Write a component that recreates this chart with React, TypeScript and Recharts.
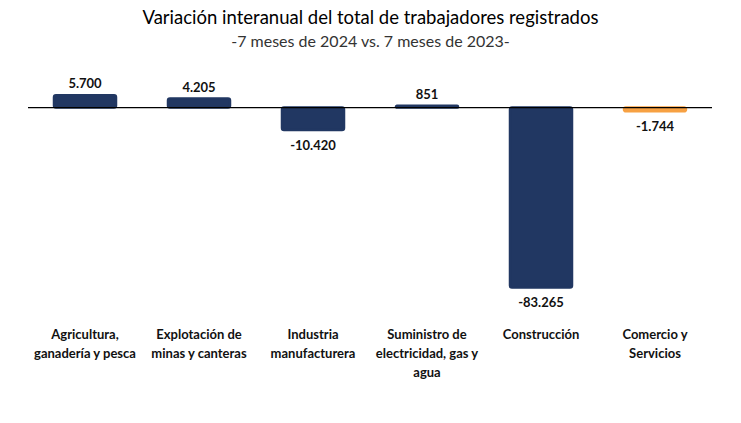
import { BarChart, Bar, XAxis, YAxis, Cell, LabelList, ReferenceLine } from 'recharts';

const categories = [
  'Agricultura, ganadería y pesca',
  'Explotación de minas y canteras',
  'Industria manufacturera',
  'Suministro de electricidad, gas y agua',
  'Construcción',
  'Comercio y Servicios',
];

// how each category label wraps under the axis
const tickLines = [
  ['Agricultura,', 'ganadería y pesca'],
  ['Explotación de', 'minas y canteras'],
  ['Industria', 'manufacturera'],
  ['Suministro de', 'electricidad, gas y', 'agua'],
  ['Construcción'],
  ['Comercio y', 'Servicios'],
];

const values = [5700, 4205, -10420, 851, -83265, -1744];

const data = categories.map((name, i) => ({ name, value: values[i], idx: i }));

const NAVY = '#213762';
const ORANGE = '#F7A143';
const FONT = 'Lato, "Open Sans", sans-serif';

const fmt = (v: number) => {
  const s = Math.abs(v).toString().replace(/\B(?=(\d{3})+(?!\d))/g, '.');
  return (v < 0 ? '-' : '') + s;
};

const CategoryTick = (props: any) => {
  const { x, payload } = props;
  const lines = tickLines[payload.index] || [payload.value];
  return (
    <g>
      {lines.map((l: string, i: number) => (
        <text
          key={i}
          x={x}
          y={339 + i * 19}
          textAnchor="middle"
          fontFamily={FONT}
          fontWeight="bold"
          fontSize={13}
          fill="#111"
        >
          {l}
        </text>
      ))}
    </g>
  );
};

const ValueLabel = (props: any) => {
  const { x, y, width, height, value } = props;
  const top = Math.min(y, y + height);
  const bottom = Math.max(y, y + height);
  const cx = x + width / 2;
  const ty = value >= 0 ? top - 7 : bottom + 20;
  return (
    <text x={cx} y={ty} textAnchor="middle" fontFamily={FONT} fontWeight="bold" fontSize={13} fill="#111">
      {fmt(value)}
    </text>
  );
};

const App = () => (
  <div style={{ margin: -8, width: 741, height: 423, position: 'relative', background: '#fff' }}>
    <div
      style={{
        position: 'absolute',
        top: 6,
        left: 0,
        width: 741,
        textAlign: 'center',
        fontFamily: FONT,
        fontSize: 18.5,
        color: '#000',
      }}
    >
      Variación interanual del total de trabajadores registrados
    </div>
    <div
      style={{
        position: 'absolute',
        top: 31,
        left: 0,
        width: 741,
        textAlign: 'center',
        fontFamily: FONT,
        fontSize: 16,
        color: '#333',
      }}
    >
      -7 meses de 2024 vs. 7 meses de 2023-
    </div>
    <BarChart
      width={741}
      height={423}
      data={data}
      margin={{ top: 86, right: 29, left: 28, bottom: 91 }}
      barSize={62}
    >
      <XAxis dataKey="name" axisLine={false} tickLine={false} tick={<CategoryTick />} interval={0} />
      <YAxis hide domain={[-90000, 10000]} />
      <ReferenceLine y={0} stroke="#000" strokeWidth={1.2} />
      <Bar dataKey="value" isAnimationActive={false} radius={2} strokeWidth={2.5}>
        {data.map((d, i) => (
          <Cell key={i} fill={i === 5 ? ORANGE : NAVY} stroke={i === 5 ? ORANGE : NAVY} />
        ))}
        <LabelList dataKey="value" content={<ValueLabel />} />
      </Bar>
    </BarChart>
  </div>
);

export default App;
